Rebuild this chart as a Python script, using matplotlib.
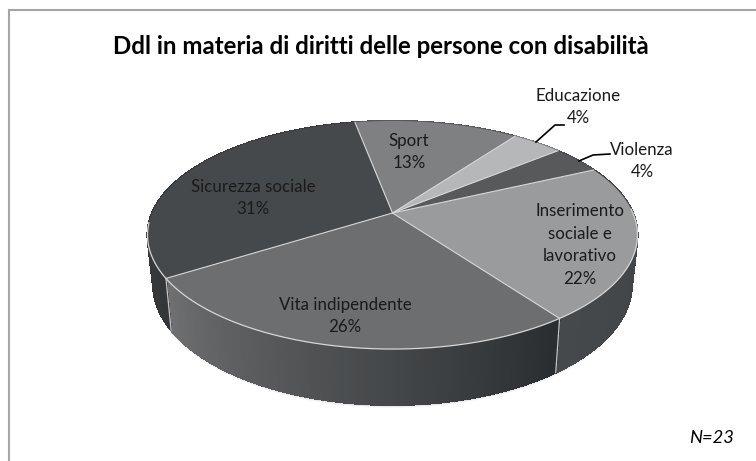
import numpy as np
import matplotlib
matplotlib.use("Agg")
import matplotlib.pyplot as plt
from matplotlib.patches import Polygon
from matplotlib.collections import PolyCollection
from matplotlib.colors import to_rgb

title = "Ddl in materia di diritti delle persone con disabilità"
categories = ["Violenza", "Inserimento\nsociale e\nlavorativo", "Vita indipendente",
              "Sicurezza sociale", "Sport", "Educazione"]
shares = [4, 22, 26, 31, 13, 4]
note = "N=23"

top_colors = ["#58595b", "#9a9b9d", "#6c6e70", "#46494b", "#7e8081", "#b6b7b8"]
wall_colors = [("#4a4c4e", "#4a4c4e"), ("#46494b", "#3f4244"), ("#6e7072", "#2a2d2f"),
               ("#3c3f42", "#34373a"), ("#55585a", "#55585a"), ("#808182", "#808182")]
label_pos = [(642, 161), (580, 245), (345, 316), (253, 198), (409, 152), (578, 107)]
plt.rcParams["font.family"] = ["Lato", "DejaVu Sans"]

CX, CY, RX, RY, P = 392.5, 213.0, 240.4, 109.8, 0.193
START = 39.5
PALE = "#d6d7d8"


def project(theta_deg, wall=False):
    t = np.radians(theta_deg)
    X, Y = np.cos(t), np.sin(t)
    s = 1 / (1 + P * Y)
    dx, dy = RX * X * s, -RY * Y * s
    if wall:
        return CX + 0.977 * dx, CY + 48 + 1.058 * dy
    return CX + dx, CY + dy


fig = plt.figure(figsize=(7.56, 4.61), dpi=100, facecolor="white")
ax = fig.add_axes([0, 0, 1, 1])
ax.set_xlim(0, 756)
ax.set_ylim(461, 0)
ax.axis("off")

# frame (top and left only)
ax.plot([9, 9, 756], [461, 10.5, 10.5], color="#a6a6a6", lw=1.5, solid_joinstyle="miter")

# boundaries from the data
angles = [START]
for v in shares:
    angles.append(angles[-1] - 360 * v / sum(shares))

# soft shadow under the wall
full = np.linspace(0, 360, 361)
for grow, alpha in [(3.0, 0.05), (2.0, 0.08), (1.2, 0.12), (0.6, 0.18)]:
    x, y = project(full, wall=True)
    ax.add_patch(Polygon(np.c_[x, y + grow], closed=True, fc="#555555", ec="none",
                         alpha=alpha, zorder=1))

# side walls
quads, cols = [], []
for i in range(len(shares)):
    a0, a1 = angles[i], angles[i + 1]
    th = np.linspace(a0, a1, int(abs(a0 - a1) * 2) + 2)
    c1, c0 = np.array(to_rgb(wall_colors[i][0])), np.array(to_rgb(wall_colors[i][1]))
    for j in range(len(th) - 1):
        tx0, ty0 = project(th[j])
        tx1, ty1 = project(th[j + 1])
        bx0, by0 = project(th[j], wall=True)
        bx1, by1 = project(th[j + 1], wall=True)
        quads.append([(tx0, ty0), (tx1, ty1), (bx1, by1), (bx0, by0)])
        f = j / max(1, len(th) - 2)
        cols.append(c0 * (1 - f) + c1 * f)
ax.add_collection(PolyCollection(quads, facecolors=cols, edgecolors=cols, linewidths=0.8,
                                 antialiaseds=False, zorder=2))

# light separators on the front wall
for a in angles[:-1]:
    if np.sin(np.radians(a)) < -0.2:
        x0, y0 = project(a)
        x1, y1 = project(a, wall=True)
        ax.plot([x0, x1], [y0, y1], color="#c4c5c6", lw=0.9, zorder=3)

# top faces
for i in range(len(shares)):
    th = np.linspace(angles[i], angles[i + 1], 120)
    x, y = project(th)
    pts = np.r_[[[CX, CY]], np.c_[x, y]]
    ax.add_patch(Polygon(pts, closed=True, fc=top_colors[i], ec="none", zorder=4))

# pale radial separators and pale front rim
for a in angles[:-1]:
    x, y = project(a)
    ax.plot([CX, x], [CY, y], color=PALE, lw=0.8, zorder=5)
rim = np.linspace(-175, 2, 300)
x, y = project(rim)
ax.plot(x, y, color=PALE, lw=0.9, zorder=5)

# leader lines
ax.plot([536, 555, 564], [142, 125, 125], color="black", lw=1.2, zorder=5)
ax.plot([579, 593, 610], [161, 155, 154], color="black", lw=1.2, zorder=5)

# labels
for name, v, (lx, ly) in zip(categories, shares, label_pos):
    ax.text(lx, ly, f"{name}\n{v}%", ha="center", va="center", fontsize=12.2,
            color="#1a1a1a", linespacing=1.52, zorder=6)

ax.text(381, 46, title, ha="center", va="center", fontsize=17.3, fontweight="bold", color="black")
ax.text(712, 438, note, ha="center", va="center", fontsize=13.2, style="italic", color="black")

fig.savefig("out.png", dpi=100, facecolor="white")
